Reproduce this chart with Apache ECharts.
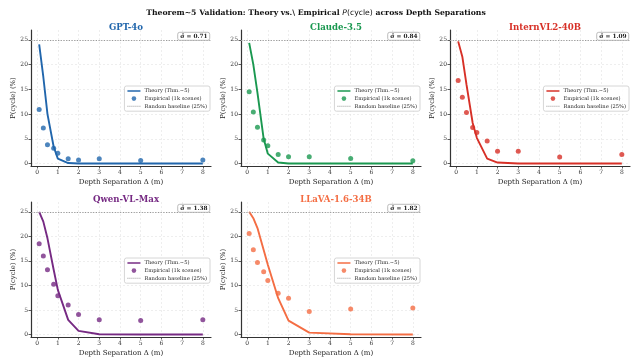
<!DOCTYPE html>
<html>
<head>
<meta charset="utf-8">
<script src="https://cdn.jsdelivr.net/npm/echarts@6/dist/echarts.min.js"></script>
<style>html,body{margin:0;padding:0;background:#fff}#c{width:632px;height:358px}</style>
</head>
<body>
<div id="c"></div>
<script>
const depths = [0.1, 0.3, 0.5, 0.8, 1.0, 1.5, 2, 3, 5, 8];
const models = ['GPT-4o', 'Claude-3.5', 'InternVL2-40B', 'Qwen-VL-Max', 'LLaVA-1.6-34B'];
const sigmaHat = ['0.71', '0.84', '1.09', '1.38', '1.82'];
const theoryGPT4o   = [24.1, 17.5, 10.0, 3.4, 1.0, 0.1, 0.0, 0.0, 0.0, 0.0];
const theoryClaude  = [24.4, 20.0, 14.3, 5.0, 2.0, 0.2, 0.0, 0.0, 0.0, 0.0];
const theoryIntern  = [24.7, 21.6, 16.0, 8.2, 5.2, 1.0, 0.2, 0.02, 0.0, 0.0];
const theoryQwen    = [25.0, 23.0, 19.6, 13.2, 9.1, 3.0, 0.75, 0.07, 0.0, 0.0];
const theoryLLaVA   = [25.0, 23.7, 21.7, 17.2, 14.2, 7.4, 2.85, 0.4, 0.05, 0.0];
const empGPT4o  = [10.9, 7.2, 3.8, 3.1, 2.1, 0.95, 0.7, 0.95, 0.6, 0.7];
const empClaude = [14.5, 10.4, 7.35, 4.75, 3.6, 1.85, 1.35, 1.35, 1.0, 0.55];
const empIntern = [16.8, 13.4, 10.3, 7.3, 6.25, 4.55, 2.5, 2.5, 1.3, 1.85];
const empQwen   = [18.5, 16.0, 13.2, 10.25, 7.9, 6.0, 4.1, 3.0, 2.85, 3.0];
const empLLaVA  = [20.6, 17.25, 14.7, 12.8, 11.0, 8.4, 7.4, 4.7, 5.2, 5.4];
const baseline = 25;
const xTickValues = [0, 1, 2, 3, 4, 5, 6, 7, 8];
const yTickValues = [0, 5, 10, 15, 20, 25];

const theories = [theoryGPT4o, theoryClaude, theoryIntern, theoryQwen, theoryLLaVA];
const empiricals = [empGPT4o, empClaude, empIntern, empQwen, empLLaVA];

// styling / layout
const colors = ['#2166ac', '#1a9850', '#d73027', '#762a83', '#f46d43'];
const colLeft = [31, 241, 450];
const rowTop = [30, 202];
const gw = 180, gh = 136;
const serif = '"DejaVu Serif", serif';
const dottedIcon = 'path://M0,0h1.2v1.2h-1.2z M2.4,0h1.2v1.2h-1.2z M4.8,0h1.2v1.2h-1.2z M7.2,0h1.2v1.2h-1.2z M9.6,0h1.2v1.2h-1.2z M12,0h1.2v1.2h-1.2z M14.4,0h1.2v1.2h-1.2z';

const grid = [], xAxis = [], yAxis = [], series = [], legend = [], title = [];

title.push({
  left: 'center', top: 4,
  text: '{b|Theorem~5 Validation: Theory vs.\\ Empirical }{i|P}{n|(cycle)}{b| across Depth Separations}',
  textStyle: {
    rich: {
      b: {fontFamily: serif, fontWeight: 'bold', fontSize: 7.7, color: '#111'},
      i: {fontFamily: '"DejaVu Sans", sans-serif', fontStyle: 'italic', fontWeight: 'normal', fontSize: 7.7, color: '#111'},
      n: {fontFamily: '"DejaVu Sans", sans-serif', fontWeight: 'normal', fontSize: 7.7, color: '#111'}
    }
  }
});

models.forEach((m, k) => {
  const L = colLeft[k % 3], T = rowTop[Math.floor(k / 3)];
  grid.push({left: L, top: T, width: gw, height: gh, containLabel: false});
  xAxis.push({
    type: 'value', gridIndex: k, min: -0.295, max: 8.395,
    name: 'Depth Separation Δ (m)', nameLocation: 'middle', nameGap: 13,
    nameTextStyle: {fontFamily: serif, fontSize: 7, color: '#222'},
    axisLine: {show: true, onZero: false, lineStyle: {color: '#333', width: 1.2}},
    axisTick: {show: true, length: 2.5, customValues: xTickValues, lineStyle: {color: '#333', width: 0.8}},
    axisLabel: {customValues: xTickValues, fontFamily: serif, fontSize: 6, color: '#333', margin: 3},
    splitLine: {show: true, lineStyle: {color: '#e3e3e3', type: [2, 2], width: 0.6}}
  });
  yAxis.push({
    type: 'value', gridIndex: k, min: -0.5, max: 27,
    name: 'P(cycle) (%)', nameLocation: 'middle', nameGap: 14,
    nameTextStyle: {fontFamily: serif, fontSize: 6.8, color: '#222'},
    axisLine: {show: true, onZero: false, lineStyle: {color: '#333', width: 1.2}},
    axisTick: {show: true, length: 2.5, customValues: yTickValues, lineStyle: {color: '#333', width: 0.8}},
    axisLabel: {customValues: yTickValues, fontFamily: serif, fontSize: 6, color: '#333', margin: 3},
    splitLine: {show: true, lineStyle: {color: '#e3e3e3', type: [2, 2], width: 0.6}}
  });
  const nTheory = 'Theory (Thm.~5)#' + k;
  const nEmp = 'Empirical (1k scenes)#' + k;
  const nBase = 'Random baseline (25%)#' + k;
  series.push({
    name: nBase, type: 'line', xAxisIndex: k, yAxisIndex: k, data: [],
    symbol: 'none', color: '#999',
    lineStyle: {color: '#999', type: 'dotted', width: 1},
    markLine: {silent: true, symbol: 'none', label: {show: false},
      lineStyle: {color: '#999', type: [1.2, 1.5], width: 1}, data: [{yAxis: baseline}]}
  });
  series.push({
    name: nTheory, type: 'line', xAxisIndex: k, yAxisIndex: k,
    data: depths.map((d, i) => [d, theories[k][i]]),
    symbol: 'none', color: colors[k], lineStyle: {color: colors[k], width: 1.9}, z: 3
  });
  series.push({
    name: nEmp, type: 'scatter', xAxisIndex: k, yAxisIndex: k,
    data: depths.map((d, i) => [d, empiricals[k][i]]),
    symbol: 'circle', symbolSize: 5, itemStyle: {color: colors[k]}, z: 4
  });
  legend.push({
    data: [
      {name: nTheory, icon: 'path://M0,0L14,0L14,1.6L0,1.6Z'},
      {name: nEmp, icon: 'circle', itemStyle: {}},
      {name: nBase, icon: dottedIcon}
    ],
    formatter: n => n.split('#')[0],
    orient: 'vertical', right: 632 - (L + gw) + 1, top: T + 56,
    itemWidth: 13, itemHeight: 4.6, itemGap: 2.6,
    padding: [2.5, 3, 2.5, 3],
    backgroundColor: 'rgba(255,255,255,0.85)', borderColor: '#ccc', borderWidth: 0.8, borderRadius: 2,
    textStyle: {fontFamily: serif, fontSize: 5.2, color: '#222', padding: [0, 0, 0, -1]},
    selectedMode: false
  });
  title.push({
    text: m, left: L + gw / 2, top: T - 11.5, textAlign: 'center',
    textStyle: {fontFamily: serif, fontWeight: 'bold', fontSize: 8.6, color: colors[k]}
  });
  title.push({
    text: 'σ̂ = ' + sigmaHat[k], right: 632 - (L + gw) + 1, top: T + 2,
    padding: [1.8, 2.5, 1.2, 2.5],
    backgroundColor: 'rgba(255,255,255,0.9)', borderColor: '#aaa', borderWidth: 0.8, borderRadius: 2,
    textStyle: {fontFamily: serif, fontSize: 5.8, color: '#222'}
  });
});

const chart = echarts.init(document.getElementById('c'), null, {renderer: 'canvas'});
chart.setOption({backgroundColor: '#fff', animation: false, title, grid, xAxis, yAxis, series, legend});
</script>
</body>
</html>
